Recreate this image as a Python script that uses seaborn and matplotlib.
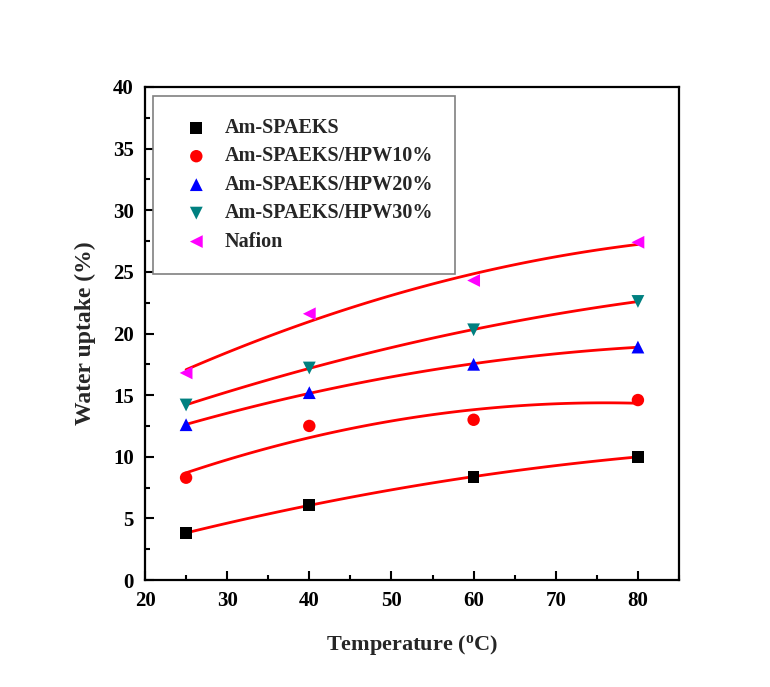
import numpy as np
import pandas as pd
import matplotlib
matplotlib.use("Agg")
import matplotlib.pyplot as plt
from matplotlib.ticker import AutoMinorLocator
import seaborn as sns

# ---- data ----
temperature = [25, 40, 60, 80]
series_names = ["Am-SPAEKS", "Am-SPAEKS/HPW10%", "Am-SPAEKS/HPW20%",
                "Am-SPAEKS/HPW30%", "Nafion"]
am_spaeks = [3.8, 6.1, 8.35, 10.0]
hpw10 = [8.3, 12.5, 13.0, 14.6]
hpw20 = [12.6, 15.2, 17.5, 18.9]
hpw30 = [14.2, 17.2, 20.3, 22.6]
nafion = [16.8, 21.6, 24.3, 27.4]
values = [am_spaeks, hpw10, hpw20, hpw30, nafion]

x_ticks = [20, 30, 40, 50, 60, 70, 80]
y_ticks = [0, 5, 10, 15, 20, 25, 30, 35, 40]

colors = ["#000000", "#FF0000", "#0000FF", "#008080", "#FF00FF"]
markers = ["s", "o", "^", "v", "<"]
msizes = [70, 80, 85, 85, 85]

sns.set_theme(style="ticks")
plt.rcParams["font.family"] = ["Liberation Serif", "DejaVu Serif"]
plt.rcParams["font.weight"] = "bold"
plt.rcParams["mathtext.fontset"] = "custom"
plt.rcParams["mathtext.rm"] = "Liberation Serif:bold"
plt.rcParams["mathtext.bf"] = "Liberation Serif:bold"

fig = plt.figure(figsize=(7.7, 6.87), dpi=100)
ax = fig.add_axes([145 / 770, 1 - 580 / 687, 534 / 770, 493 / 687])

for name, vals, c, m, s in zip(series_names, values, colors, markers, msizes):
    df = pd.DataFrame({"T": temperature, "W": vals})
    sns.regplot(data=df, x="T", y="W", order=2, ci=None, scatter=False,
                color="#FF0000", line_kws={"lw": 2, "zorder": 2}, ax=ax)
    sns.scatterplot(data=df, x="T", y="W", color=c, marker=m, s=s,
                    edgecolor="none", label=name, zorder=3, ax=ax)

ax.set_xlim(20, 85)
ax.set_ylim(0, 40)
ax.set_xticks(x_ticks)
ax.set_yticks(y_ticks)
ax.xaxis.set_minor_locator(AutoMinorLocator(2))
ax.yaxis.set_minor_locator(AutoMinorLocator(2))
ax.tick_params(which="both", direction="in", top=False, right=False,
               width=1.5, colors="black", labelsize=15)
ax.tick_params(which="major", length=6.5, pad=8)
ax.tick_params(which="minor", length=3.5)
for lab in ax.get_xticklabels() + ax.get_yticklabels():
    lab.set_fontweight("bold")
for sp in ax.spines.values():
    sp.set_linewidth(1.6)
    sp.set_color("black")

ax.set_xlabel(r"Temperature ($\mathbf{^{o}}$C)", fontsize=16,
              fontweight="bold", labelpad=16)
ax.set_ylabel("Water uptake (%)", fontsize=17, fontweight="bold", labelpad=12)

leg = ax.legend(loc="upper left", bbox_to_anchor=(0.015, 0.982),
                borderaxespad=0, frameon=True, fancybox=False,
                borderpad=1.1, handlelength=2.1, handletextpad=0.35,
                labelspacing=0.42, prop={"weight": "bold", "size": 14.5})
leg.get_frame().set_edgecolor("#808080")
leg.get_frame().set_linewidth(1.2)
leg.get_frame().set_alpha(1)

fig.savefig("out.png", dpi=100)
